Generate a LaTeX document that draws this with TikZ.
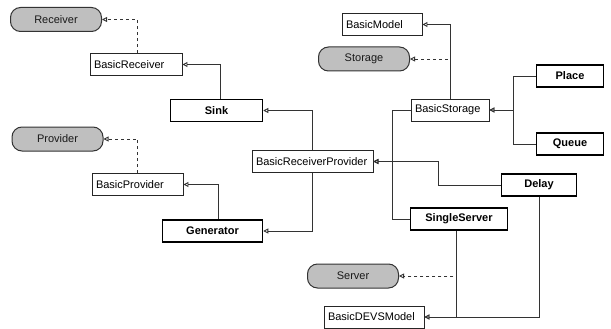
\documentclass[tikz,border=0pt]{standalone}
\usepackage{fontspec}
\setmainfont{Liberation Sans}
\usetikzlibrary{shapes,positioning,calc,arrows.meta}

\begin{document}
\begin{tikzpicture}[
    x=1pt, y=-1pt,
    font=\fontsize{11}{13}\selectfont,
    iface/.style={rectangle, draw=black!80, line width=1pt, fill=black!25, text=black!90, rounded corners=10pt, minimum width=91pt, minimum height=24pt, align=center},
    basic/.style={rectangle, draw=black!85, line width=0.9pt, fill=white, text width=#1, align=left, inner xsep=4pt, minimum height=22pt},
    concrete/.style={rectangle, draw=black, line width=1.5pt, fill=white, font=\fontsize{11}{13}\selectfont\bfseries, minimum width=#1, minimum height=22pt, align=center},
    inherit/.style={draw=black!80, line width=0.9pt, -{Triangle[open, length=5pt, width=5pt]}},
    realize/.style={inherit, dashed}
]
\useasboundingbox (0,0) rectangle (611,329);

% Interfaces
\node[iface] (receiver) at (56,19.5) {Receiver};
\node[iface] (provider) at (57.5,139) {Provider};
\node[iface] (storage) at (364,59) {Storage};
\node[iface] (server) at (353,276) {Server};

% Base classes
\node[basic=84pt] (basicreceiver) at (136,64.5) {BasicReceiver};
\node[basic=83pt] (basicprovider) at (137.5,184.5) {BasicProvider};
\node[basic=113pt] (recprov) at (312.5,161.5) {BasicReceiverProvider};
\node[basic=72pt] (basicmodel) at (382,24.5) {BasicModel};
\node[basic=70pt] (basicstorage) at (450,110) {BasicStorage};
\node[basic=92pt] (basicdevs) at (374,317) {BasicDEVSModel};

% Concrete models
\node[concrete=92pt] (sink) at (216.5,110.5) {Sink};
\node[concrete=100pt] (generator) at (212.5,231) {Generator};
\node[concrete=67pt] (place) at (570,76) {Place};
\node[concrete=67pt] (queue) at (570,144) {Queue};
\node[concrete=75pt] (delay) at (539,185) {Delay};
\node[concrete=97pt] (singleserver) at (459,219) {SingleServer};

% Receiver / provider side
\draw[realize] ([xshift=1pt]basicreceiver.north) |- (receiver.east);
\draw[inherit] ([xshift=3.5pt]sink.north) |- (basicreceiver.east);
\draw[realize] (basicprovider.north) |- (provider.east);
\draw[inherit] ([xshift=5.5pt]generator.north) |- (basicprovider.east);
\draw[inherit] (recprov.north) |- (sink.east);
\draw[inherit] (recprov.south) |- (generator.east);

% Storage side
\draw[inherit] (basicstorage.north) |- (basicmodel.east);
\draw[realize] (basicstorage.north) |- (storage.east);
\draw[inherit] (place.west) -| ([xshift=24pt]basicstorage.east) -- (basicstorage.east);
\draw[inherit] (queue.west) -| ([xshift=24pt]basicstorage.east) -- (basicstorage.east);

% Into BasicReceiverProvider
\draw[inherit] (basicstorage.west) -| ([xshift=19pt]recprov.east) -- (recprov.east);
\draw[inherit] (singleserver.west) -| ([xshift=19pt]recprov.east) -- (recprov.east);
\draw[inherit] (delay.west) -| ([xshift=65pt]recprov.east) -- (recprov.east);

% DEVS models
\draw[realize] ([xshift=-3pt]singleserver.south) |- (server.east);
\draw[inherit] ([xshift=-3pt]singleserver.south) |- (basicdevs.east);
\draw[inherit] (delay.south) |- (basicdevs.east);

\end{tikzpicture}
\end{document}
